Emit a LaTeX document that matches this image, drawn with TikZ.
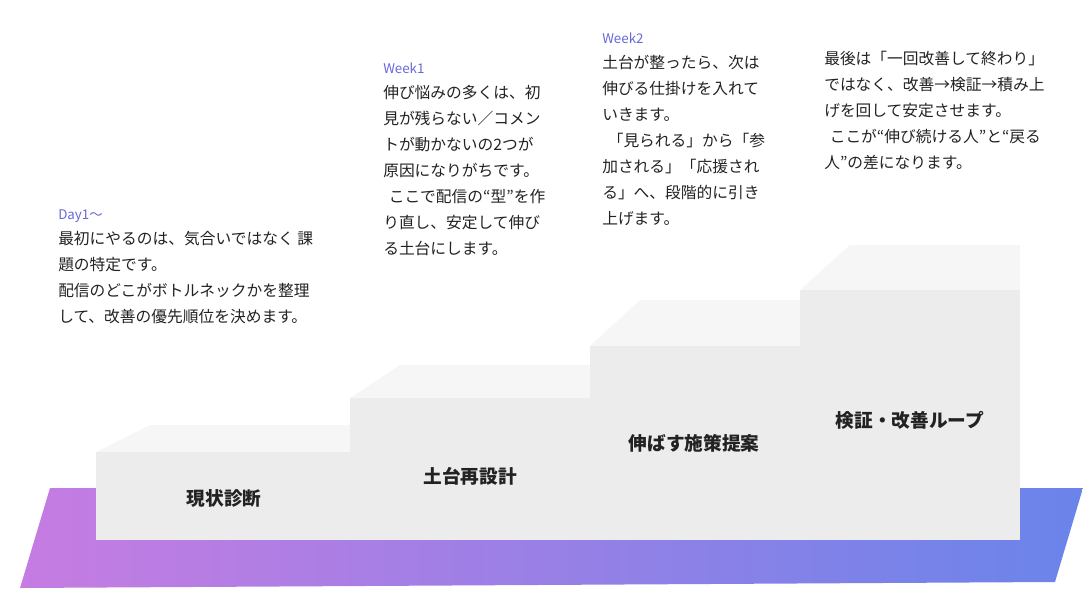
\documentclass[tikz,border=0pt]{standalone}
\usepackage{fontspec}
\setmainfont{Noto Sans CJK JP}
\usetikzlibrary{positioning}
\definecolor{stepfront}{HTML}{ECECEC}
\definecolor{steptop}{HTML}{F6F6F6}
\definecolor{weekblue}{HTML}{6767D8}
\definecolor{basepink}{HTML}{C67CE2}
\definecolor{baseblue}{HTML}{6A84EA}
\definecolor{bodytext}{HTML}{222222}
\newcommand{\lead}{\hspace*{0.35em}}

\begin{document}
\begin{tikzpicture}[x=0.75pt,y=-0.75pt,
      front/.style={fill=stepfront,draw=none},
      top/.style={fill=steptop,draw=none},
      steplabel/.style={font=\fontsize{14}{16}\selectfont\bfseries,text=bodytext},
      weektag/.style={anchor=north west,inner sep=0pt,font=\fontsize{10}{12}\selectfont,text=weekblue},
      bodybox/.style={anchor=north west,inner sep=0pt,align=left,
         font=\fontsize{11.8}{19.5}\selectfont,text=bodytext}
      ]
      \useasboundingbox (0,0) rectangle (1083,589);
      % base
      \shade[left color=basepink,right color=baseblue]
         (50,488) -- (1083,488) -- (1055,582) -- (20,588) -- cycle;
      % steps: top faces then fronts
      \fill[top] (96,452) -- (150,425) -- (350,425) -- (350,452) -- cycle;
      \fill[top] (350,398) -- (400,365) -- (590,365) -- (590,398) -- cycle;
      \fill[top] (590,346) -- (640,300) -- (800,300) -- (800,346) -- cycle;
      \fill[top] (800,290) -- (850,245) -- (1020,245) -- (1020,290) -- cycle;
      \fill[front] (96,452) rectangle (350,540);
      \fill[front] (350,398) rectangle (590,540);
      \fill[front] (590,346) rectangle (800,540);
      \fill[front] (800,290) rectangle (1020,540);
      % step labels
      \node[steplabel] (s1) at (224,498) {現状診断};
      \node[steplabel] (s2) at (470,476) {土台再設計};
      \node[steplabel] (s3) at (694,443) {伸ばす施策提案};
      \node[steplabel] (s4) at (910,420) {検証・改善ループ};
      % texts
      \node[weektag] (w1) at (58,209) {Day1〜};
      \node[bodybox] (t1) at (58,231) {最初にやるのは、気合いではなく 課\\題の特定です。\\配信のどこがボトルネックかを整理\\して、改善の優先順位を決めます。};
      \node[weektag] (w2) at (383,63) {Week1};
      \node[bodybox] (t2) at (383,85) {伸び悩みの多くは、初\\見が残らない／コメン\\トが動かないの2つが\\原因になりがちです。\\\lead ここで配信の“型”を作\\り直し、安定して伸び\\る土台にします。};
      \node[weektag] (w3) at (602,33) {Week2};
      \node[bodybox] (t3) at (602,55) {土台が整ったら、次は\\伸びる仕掛けを入れて\\いきます。\\\lead「見られる」から「参\\加される」「応援され\\る」へ、段階的に引き\\上げます。};
      \node[bodybox] (t4) at (824,51) {最後は「一回改善して終わり」\\ではなく、改善→検証→積み上\\げを回して安定させます。\\\lead ここが“伸び続ける人”と“戻る\\人”の差になります。};
\end{tikzpicture}
\end{document}
